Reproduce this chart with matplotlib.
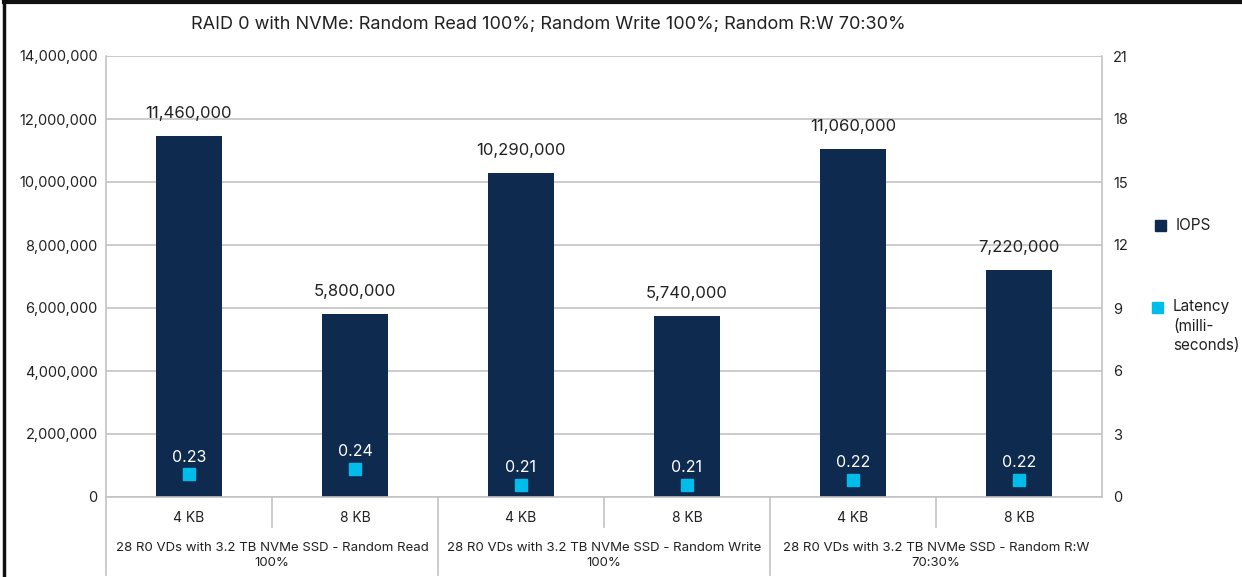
import matplotlib
matplotlib.use("Agg")
import matplotlib.pyplot as plt
from matplotlib.lines import Line2D
from matplotlib.transforms import blended_transform_factory
from matplotlib.ticker import FuncFormatter, MultipleLocator

plt.rcParams['font.family'] = ['Inter', 'DejaVu Sans']

# ---- data ----
block_sizes = ["4 KB", "8 KB", "4 KB", "8 KB", "4 KB", "8 KB"]
groups = [
    "28 R0 VDs with 3.2 TB NVMe SSD - Random Read\n100%",
    "28 R0 VDs with 3.2 TB NVMe SSD - Random Write\n100%",
    "28 R0 VDs with 3.2 TB NVMe SSD - Random R:W\n70:30%",
]
iops = [11460000, 5800000, 10290000, 5740000, 11060000, 7220000]
latency_ms = [0.23, 0.24, 0.21, 0.21, 0.22, 0.22]
title = "RAID 0 with NVMe: Random Read 100%; Random Write 100%; Random R:W 70:30%"

NAVY = "#0e2a4f"
CYAN = "#00bceb"
GRID = "#c3c3c3"
TXT = "#222222"

W, H = 1242, 577
fig = plt.figure(figsize=(W / 100, H / 100), dpi=100)
L, R, T, B = 106, 1102, 56, 497
ax = fig.add_axes([L / W, 1 - B / H, (R - L) / W, (B - T) / H])

x = list(range(len(iops)))
ax.bar(x, iops, width=0.4, color=NAVY, zorder=2)
ax.set_xlim(-0.5, len(iops) - 0.5)
ax.set_ylim(0, 14000000)
ax.yaxis.set_major_locator(MultipleLocator(2000000))
ax.yaxis.set_major_formatter(FuncFormatter(lambda v, p: f"{int(v):,}"))
ax.grid(axis="y", color=GRID, linewidth=1.2, zorder=0)
ax.set_xticks([])
ax.tick_params(axis="y", length=0, pad=6, labelsize=10.5, labelcolor=TXT)
ax.spines["top"].set_visible(False)
for s in ["left", "right", "bottom"]:
    ax.spines[s].set_color(GRID)
    ax.spines[s].set_linewidth(1.2)

for xi, v in zip(x, iops):
    ax.annotate(f"{v:,}", (xi, v), xytext=(0, 13), textcoords="offset points",
                ha="center", va="baseline", fontsize=12, color=TXT)

# secondary scale for latency
ax2 = ax.twinx()
ax2.set_ylim(0, 21)
ax2.yaxis.set_major_locator(MultipleLocator(3))
ax2.tick_params(axis="y", length=0, pad=8, labelsize=10.5, labelcolor=TXT)
for s in ax2.spines.values():
    s.set_visible(False)

# latency markers on their own scale
ax3 = ax.twinx()
ax3.set_ylim(0.187, 1.019)
ax3.axis("off")
ax3.plot(x, latency_ms, linestyle="none", marker="s", markersize=9,
         color=CYAN, zorder=3)
for xi, v in zip(x, latency_ms):
    ax3.annotate(f"{v:.2f}", (xi, v), xytext=(0, 9), textcoords="offset points",
                 ha="center", va="baseline", fontsize=11.5, color="white")

# two-level category labels
tr = blended_transform_factory(ax.transData, ax.transAxes)
px = 1.0 / (B - T)
for xi, lab in zip(x, block_sizes):
    ax.text(xi, -21 * px, lab, transform=tr, ha="center", va="center",
            fontsize=10, color=TXT)
for gi, lab in enumerate(groups):
    ax.text(2 * gi + 0.5, -45 * px, lab, transform=tr, ha="center", va="top",
            fontsize=9.5, color=TXT, linespacing=1.3)
for xs in [-0.5, 1.5, 3.5]:
    ax.add_line(Line2D([xs, xs], [0, -78 * px], transform=tr, color=GRID,
                       linewidth=1.2, clip_on=False))
for xs in [0.5, 2.5, 4.5]:
    ax.add_line(Line2D([xs, xs], [0, -30 * px], transform=tr, color=GRID,
                       linewidth=1.2, clip_on=False))

# title
fig.text(548 / W, 1 - 24 / H, title, ha="center", va="center",
         fontsize=13, color=TXT)

# legend
fig.patches.append(plt.Rectangle((1155 / W, 1 - 231 / H), 11 / W, 11 / H,
                                 transform=fig.transFigure, color=NAVY))
fig.text(1176 / W, 1 - 226 / H, "IOPS", ha="left", va="center",
         fontsize=11, color=TXT)
fig.patches.append(plt.Rectangle((1152 / W, 1 - 313 / H), 11 / W, 11 / H,
                                 transform=fig.transFigure, color=CYAN))
fig.text(1173 / W, 1 - 299 / H, "Latency\n(milli-\nseconds)", ha="left",
         va="top", fontsize=11, color=TXT, linespacing=1.38)

# outer frame edges
fig.add_artist(Line2D([4 / W, 4 / W], [0, 1 - 2 / H], transform=fig.transFigure,
                      color="#111111", linewidth=2.5))
fig.add_artist(Line2D([4 / W, 1], [1 - 2 / H, 1 - 2 / H], transform=fig.transFigure,
                      color="#111111", linewidth=3))

fig.savefig("out.png", dpi=100)
